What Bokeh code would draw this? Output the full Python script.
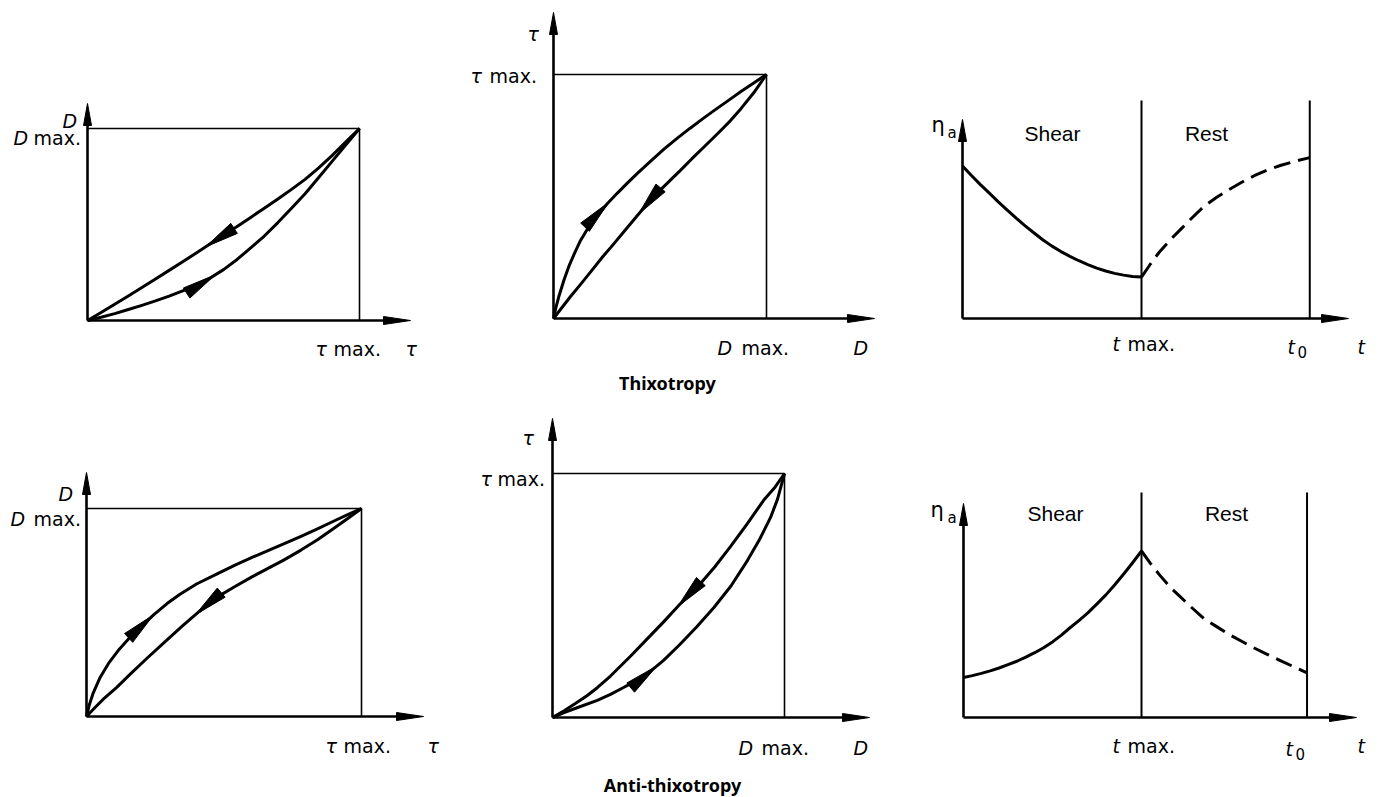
import numpy as np
from bokeh.plotting import figure
from bokeh.models import Range1d
from bokeh.core.properties import value
from bokeh.embed import file_html
from bokeh.resources import INLINE

# ---------------- data (normalised units: 0..1 = origin..max) ----------------
# Thixotropy, D versus tau
thx_dt_up_x = [0, 0.05, 0.10, 0.15, 0.20, 0.25, 0.30, 0.35, 0.40, 0.45, 0.50, 0.55, 0.60, 0.65, 0.70, 0.75, 0.80, 0.85, 0.90, 0.95, 1]
thx_dt_up_y = [0, 0.017, 0.036, 0.057, 0.079, 0.102, 0.127, 0.154, 0.183, 0.22, 0.265, 0.318, 0.378, 0.44, 0.51, 0.585, 0.66, 0.745, 0.83, 0.915, 1]
thx_dt_dn_x = [1, 0.95, 0.90, 0.85, 0.80, 0.75, 0.70, 0.65, 0.60, 0.55, 0.50, 0.45, 0.40, 0.35, 0.30, 0.25, 0.20, 0.15, 0.10, 0.05, 0]
thx_dt_dn_y = [1, 0.93, 0.86, 0.795, 0.735, 0.683, 0.633, 0.585, 0.537, 0.49, 0.444, 0.398, 0.352, 0.306, 0.261, 0.216, 0.172, 0.128, 0.085, 0.042, 0]
# Thixotropy, tau versus D
thx_td_up_x = [0, 0.01, 0.025, 0.05, 0.075, 0.10, 0.127, 0.16, 0.205, 0.25, 0.30, 0.35, 0.40, 0.46, 0.52, 0.58, 0.64, 0.70, 0.75, 0.82, 0.88, 0.94, 1]
thx_td_up_y = [0, 0.04, 0.09, 0.16, 0.22, 0.27, 0.32, 0.368, 0.42, 0.468, 0.514, 0.558, 0.60, 0.648, 0.695, 0.738, 0.779, 0.818, 0.85, 0.893, 0.93, 0.965, 1]
thx_td_dn_x = [1, 0.94, 0.88, 0.83, 0.77, 0.71, 0.65, 0.596, 0.55, 0.50, 0.44, 0.39, 0.34, 0.283, 0.23, 0.18, 0.127, 0.08, 0.04, 0]
thx_td_dn_y = [1, 0.925, 0.86, 0.81, 0.757, 0.706, 0.655, 0.607, 0.568, 0.525, 0.47, 0.418, 0.366, 0.306, 0.252, 0.197, 0.14, 0.09, 0.045, 0]
# Thixotropy, apparent viscosity versus time (t max = 1)
thx_eta_shear_t = [0, 0.05, 0.10, 0.15, 0.20, 0.25, 0.30, 0.35, 0.40, 0.45, 0.50, 0.55, 0.60, 0.65, 0.70, 0.75, 0.80, 0.85, 0.90, 0.95, 1]
thx_eta_shear_v = [0.70, 0.656, 0.614, 0.575, 0.535, 0.497, 0.46, 0.425, 0.392, 0.36, 0.332, 0.307, 0.285, 0.265, 0.247, 0.231, 0.218, 0.207, 0.199, 0.193, 0.19]
thx_eta_rest_t = [1, 1.05, 1.10, 1.16, 1.22, 1.28, 1.35, 1.42, 1.49, 1.56, 1.63, 1.70, 1.78, 1.86, 1.94]
thx_eta_rest_v = [0.19, 0.25, 0.305, 0.36, 0.41, 0.46, 0.515, 0.556, 0.592, 0.625, 0.655, 0.68, 0.703, 0.722, 0.738]

# Anti-thixotropy, D versus tau
ath_dt_up_x = [0, 0.01, 0.025, 0.05, 0.08, 0.12, 0.16, 0.196, 0.245, 0.293, 0.34, 0.40, 0.475, 0.54, 0.60, 0.66, 0.717, 0.78, 0.84, 0.90, 0.95, 1]
ath_dt_up_y = [0, 0.055, 0.115, 0.189, 0.255, 0.325, 0.383, 0.43, 0.49, 0.543, 0.588, 0.637, 0.686, 0.728, 0.764, 0.798, 0.83, 0.866, 0.902, 0.94, 0.97, 1]
ath_dt_dn_x = [1, 0.95, 0.90, 0.84, 0.78, 0.717, 0.66, 0.60, 0.54, 0.475, 0.41, 0.35, 0.29, 0.22, 0.16, 0.11, 0.06, 0.03, 0]
ath_dt_dn_y = [1, 0.952, 0.905, 0.85, 0.80, 0.752, 0.712, 0.67, 0.625, 0.574, 0.505, 0.437, 0.365, 0.28, 0.205, 0.14, 0.082, 0.042, 0]
# Anti-thixotropy, tau versus D
ath_td_up_x = [0, 0.05, 0.10, 0.193, 0.25, 0.30, 0.36, 0.41, 0.48, 0.55, 0.62, 0.695, 0.77, 0.84, 0.89, 0.94, 0.97, 1]
ath_td_up_y = [0, 0.02, 0.038, 0.07, 0.095, 0.12, 0.15, 0.18, 0.235, 0.30, 0.37, 0.45, 0.54, 0.643, 0.725, 0.82, 0.895, 1]
ath_td_dn_x = [1, 0.96, 0.91, 0.84, 0.767, 0.70, 0.624, 0.55, 0.48, 0.40, 0.336, 0.30, 0.25, 0.193, 0.15, 0.10, 0.05, 0]
ath_td_dn_y = [1, 0.945, 0.89, 0.795, 0.70, 0.618, 0.534, 0.465, 0.393, 0.314, 0.251, 0.217, 0.17, 0.122, 0.09, 0.058, 0.028, 0]
# Anti-thixotropy, apparent viscosity versus time
ath_eta_shear_t = [0, 0.05, 0.10, 0.15, 0.20, 0.25, 0.30, 0.35, 0.40, 0.45, 0.50, 0.55, 0.60, 0.65, 0.70, 0.75, 0.80, 0.85, 0.90, 0.95, 1]
ath_eta_shear_v = [0.178, 0.186, 0.196, 0.207, 0.22, 0.235, 0.25, 0.268, 0.288, 0.31, 0.336, 0.366, 0.40, 0.432, 0.466, 0.505, 0.545, 0.59, 0.638, 0.688, 0.74]
ath_eta_rest_t = [1, 1.05, 1.10, 1.16, 1.22, 1.28, 1.35, 1.42, 1.49, 1.56, 1.63, 1.70, 1.78, 1.86, 1.93]
ath_eta_rest_v = [0.74, 0.685, 0.635, 0.58, 0.535, 0.49, 0.44, 0.405, 0.37, 0.34, 0.31, 0.283, 0.253, 0.224, 0.198]

t0_value = [1.94, 1.93]          # end of rest, relative to t max
phase_labels = ["Shear", "Rest"]
titles = ["Thixotropy", "Anti-thixotropy"]

# ---------------- layout (screen pixels) ----------------
G = {
    "thx_dt": dict(ox=87, oy=320, w=272, h=192, xend=410, yend=103),
    "thx_td": dict(ox=553, oy=318, w=213, h=244, xend=874, yend=12),
    "thx_eta": dict(ox=962, oy=318, w=179, h=218, xend=1348, yend=119),
    "ath_dt": dict(ox=86, oy=716, w=275, h=208, xend=423, yend=472),
    "ath_td": dict(ox=552, oy=717, w=232, h=244, xend=869, yend=418),
    "ath_eta": dict(ox=963, oy=717, w=178, h=225, xend=1356, yend=503),
}

p = figure(width=1384, height=797, x_range=Range1d(0, 1384), y_range=Range1d(797, 0),
           output_backend="svg", toolbar_location=None, min_border=0,
           x_axis_type=None, y_axis_type=None)
p.grid.visible = False
p.outline_line_color = None
p.background_fill_color = "white"
p.border_fill_color = "white"

INK = "black"


def to_screen(g, xs, ys):
    return ([g["ox"] + x * g["w"] for x in xs], [g["oy"] - y * g["h"] for y in ys])


def triangle(tip, d, L, W):
    d = np.asarray(d, float)
    d = d / np.hypot(*d)
    n = np.array([-d[1], d[0]])
    tip = np.asarray(tip, float)
    b = tip - L * d
    c1 = b + n * W / 2
    c2 = b - n * W / 2
    return [tip[0], c1[0], c2[0]], [tip[1], c1[1], c2[1]]


tri_xs, tri_ys = [], []


def add_tri(tip, d, L, W):
    xs, ys = triangle(tip, d, L, W)
    tri_xs.append(xs)
    tri_ys.append(ys)


def frame(g, box=True):
    ox, oy = g["ox"], g["oy"]
    p.line([ox, ox], [oy, g["yend"] + 12], line_color=INK, line_width=2.6)
    p.line([ox, g["xend"] - 12], [oy, oy], line_color=INK, line_width=2.6)
    add_tri((ox, g["yend"]), (0, -1), 22, 8)
    add_tri((g["xend"], oy), (1, 0), 27, 8)
    if box:
        bx, by = to_screen(g, [0, 1, 1], [1, 1, 0])
        p.line(bx, by, line_color=INK, line_width=1.6)


def curve(g, xs, ys, arrow_at=None, dash="solid"):
    sx, sy = to_screen(g, xs, ys)
    p.line(sx, sy, line_color=INK, line_width=3, line_dash=dash, line_join="round")
    if arrow_at is not None:
        for i in range(len(xs) - 1):
            a, b = xs[i], xs[i + 1]
            if min(a, b) <= arrow_at <= max(a, b) and a != b:
                f = (arrow_at - a) / (b - a)
                tx = sx[i] + f * (sx[i + 1] - sx[i])
                ty = sy[i] + f * (sy[i + 1] - sy[i])
                add_tri((tx, ty), (sx[i + 1] - sx[i], sy[i + 1] - sy[i]), 34, 12)
                break


frame(G["thx_dt"])
curve(G["thx_dt"], thx_dt_up_x, thx_dt_up_y, arrow_at=0.47)
curve(G["thx_dt"], thx_dt_dn_x, thx_dt_dn_y, arrow_at=0.434)

frame(G["thx_td"])
curve(G["thx_td"], thx_td_up_x, thx_td_up_y, arrow_at=0.258)
curve(G["thx_td"], thx_td_dn_x, thx_td_dn_y, arrow_at=0.40)

frame(G["ath_dt"])
curve(G["ath_dt"], ath_dt_up_x, ath_dt_up_y, arrow_at=0.244)
curve(G["ath_dt"], ath_dt_dn_x, ath_dt_dn_y, arrow_at=0.396)

frame(G["ath_td"])
curve(G["ath_td"], ath_td_up_x, ath_td_up_y, arrow_at=0.45)
curve(G["ath_td"], ath_td_dn_x, ath_td_dn_y, arrow_at=0.54)

for key, t0, st, sv, rt, rv in [
    ("thx_eta", t0_value[0], thx_eta_shear_t, thx_eta_shear_v, thx_eta_rest_t, thx_eta_rest_v),
    ("ath_eta", t0_value[1], ath_eta_shear_t, ath_eta_shear_v, ath_eta_rest_t, ath_eta_rest_v),
]:
    g = G[key]
    frame(g, box=False)
    for tv in (1, t0):
        vx, vy = to_screen(g, [tv, tv], [0, 1])
        p.line(vx, vy, line_color=INK, line_width=2)
    curve(g, st, sv)
    curve(g, rt, rv, dash="17 8")

p.patches(tri_xs, tri_ys, fill_color=INK, line_color=INK, line_width=1)

# ---------------- texts ----------------
SYM = dict(text_font=value("DejaVu Sans"), text_font_style="italic", text_font_size="19px",
           text_color=INK, text_baseline="alphabetic")
REG = dict(text_font=value("DejaVu Sans"), text_font_style="normal", text_font_size="19px",
           text_color=INK, text_baseline="alphabetic")
ETA = dict(text_font=value("DejaVu Sans"), text_font_style="normal", text_font_size="21px",
           text_color=INK, text_baseline="alphabetic")
SUB = dict(text_font=value("DejaVu Sans"), text_font_style="normal", text_font_size="15px",
           text_color=INK, text_baseline="alphabetic")
PH = dict(text_font=value("Liberation Sans"), text_font_style="normal", text_font_size="21px",
          text_color=INK, text_baseline="alphabetic", text_align="center")
TT = dict(text_font=value("Noto Sans"), text_font_style="bold", text_font_size="18px",
          text_color=INK, text_baseline="alphabetic", text_align="center")

p.text(x=[62, 13, 315, 405,
          527, 470, 717, 853,
          1112, 1287, 1357,
          58, 10, 325, 427,
          522, 480, 738, 853,
          1112, 1285, 1357],
       y=[120, 137, 348, 348,
          33, 75, 347, 347,
          343, 346, 346,
          493, 518, 745, 745,
          437, 478, 747, 747,
          745, 748, 745],
       text=["D", "D", "τ", "τ",
             "τ", "τ", "D", "D",
             "t", "t", "t",
             "D", "D", "τ", "τ",
             "τ", "τ", "D", "D",
             "t", "t", "t"], **SYM)
p.text(x=[33, 333, 489, 741, 1127, 33, 343, 497, 761, 1127],
       y=[137, 348, 75, 347, 343, 518, 745, 478, 747, 745],
       text=["max."] * 10, **REG)
p.text(x=[931, 930], y=[124, 509], text=["η", "η"], **ETA)
p.text(x=[947, 947], y=[132, 517], text=["a", "a"], **SUB)
p.text(x=[1297, 1295], y=[351, 753], text=["0", "0"], **SUB)
p.text(x=[1052, 1206, 1055, 1226], y=[133, 133, 513, 513],
       text=[phase_labels[0], phase_labels[1], phase_labels[0], phase_labels[1]], **PH)
p.text(x=[667, 672], y=[382, 784], text=titles, **TT)

open("out.html", "w").write(file_html(p, INLINE))
